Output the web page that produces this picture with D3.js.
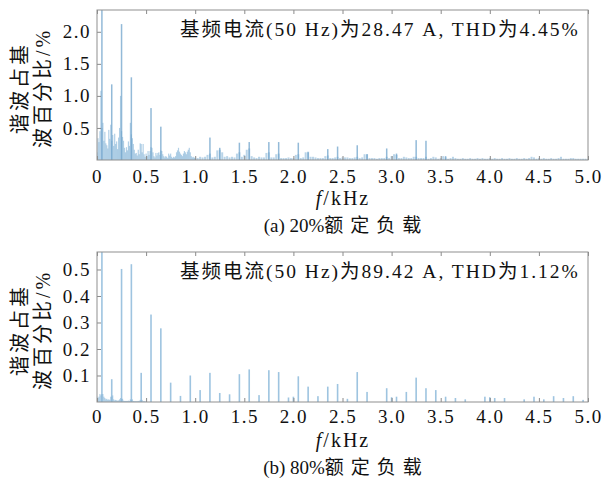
<!DOCTYPE html>
<html>
<head>
<meta charset="utf-8">
<script src="https://cdn.jsdelivr.net/npm/d3@7"></script>
<style>
  body { margin: 0; background: #fff; }
  svg text { font-family: "Liberation Serif", "Noto Sans CJK SC", serif; fill: #111; }
</style>
</head>
<body>
<svg id="chart" width="615" height="480"></svg>
<script>
// ---- data (harmonic content, % of fundamental) ----
var xTicks = [0, 0.5, 1.0, 1.5, 2.0, 2.5, 3.0, 3.5, 4.0, 4.5, 5.0];
var yTicksA = [0.5, 1.0, 1.5, 2.0];
var yTicksB = [0.1, 0.2, 0.3, 0.4, 0.5];

// (a) 20% load: 0-1 kHz spectrum at 10 Hz bins, starting at 0 kHz
var specLowA = [
  0.12, 0.34, 0.28, 0.45, 1.08, 0.50, 0.58, 0.30, 0.44, 0.26,
  0.23, 0.18, 0.47, 0.33, 0.55, 0.30, 0.39, 0.22, 0.41, 0.25,
  0.29, 0.17, 0.35, 0.50, 1.00, 0.45, 0.36, 0.30, 0.19, 0.12,
  0.20, 0.15, 0.29, 0.22, 0.58, 0.40, 0.34, 0.25, 0.16, 0.10,
  0.11, 0.07, 0.16, 0.09, 0.26, 0.25, 0.12, 0.25, 0.09, 0.05,
  0.10, 0.06, 0.14, 0.08, 0.14, 0.20, 0.19, 0.12, 0.06, 0.04,
  0.11, 0.07, 0.11, 0.12, 0.08, 0.15, 0.14, 0.09, 0.06, 0.04,
  0.06, 0.05, 0.03, 0.10, 0.07, 0.10, 0.05, 0.03, 0.05, 0.04,
  0.06, 0.12, 0.15, 0.19, 0.13, 0.10, 0.08, 0.06, 0.10, 0.14,
  0.12, 0.09, 0.13, 0.16, 0.19, 0.12, 0.06, 0.04, 0.05, 0.03
];
// (a) 1-5 kHz spectrum at 25 Hz bins, starting at 1.0 kHz
var specHighA = [
  0.04, 0.03, 0.05, 0.04,  0.05, 0.08, 0.10, 0.04,  0.05, 0.15, 0.16, 0.12,
  0.05, 0.06, 0.04, 0.05,  0.04, 0.10, 0.12, 0.05,  0.08, 0.16, 0.18, 0.06,
  0.04, 0.03, 0.05, 0.04,  0.04, 0.11, 0.12, 0.04,  0.04, 0.09, 0.10, 0.03,
  0.03, 0.03, 0.04, 0.03,  0.03, 0.08, 0.09, 0.03,  0.04, 0.12, 0.13, 0.05,
  0.05, 0.04, 0.03, 0.03,  0.03, 0.06, 0.07, 0.03,  0.03, 0.04, 0.05, 0.03,
  0.04, 0.04, 0.04, 0.03,  0.03, 0.04, 0.05, 0.03,  0.04, 0.09, 0.09, 0.03,
  0.03, 0.03, 0.02, 0.03,  0.03, 0.03, 0.05, 0.03,  0.06, 0.09, 0.08, 0.03,
  0.03, 0.05, 0.04, 0.03,  0.03, 0.05, 0.05, 0.03,  0.03, 0.03, 0.05, 0.02,
  0.03, 0.05, 0.04, 0.02,  0.03, 0.06, 0.04, 0.02,  0.03, 0.05, 0.03, 0.02,
  0.02, 0.03, 0.02, 0.02,  0.03, 0.02, 0.02, 0.03,  0.02, 0.03, 0.02, 0.02,
  0.03, 0.02, 0.03, 0.02,  0.02, 0.03, 0.02, 0.02,  0.03, 0.02, 0.02, 0.03,
  0.02, 0.02, 0.03, 0.02,  0.03, 0.05, 0.04, 0.02,  0.03, 0.02, 0.03, 0.02,
  0.02, 0.03, 0.02, 0.02,  0.03, 0.05, 0.02, 0.02,  0.02, 0.03, 0.03, 0.02,
  0.02, 0.02, 0.02, 0.02,  0.01
];
// (a) distinct lines (kHz, %)
var peakFreqA = [0.05, 0.15, 0.25, 0.35, 0.55, 0.65, 1.15, 1.25, 1.45, 1.55, 1.75, 1.85, 2.05, 2.15,
                 2.35, 2.45, 2.65, 2.75, 2.95, 3.05, 3.25, 3.35, 3.55];
var peakValA  = [100, 1.18, 2.12, 1.29, 0.81, 0.52, 0.35, 0.19, 0.27, 0.28, 0.28, 0.28, 0.27, 0.12,
                 0.17, 0.21, 0.23, 0.09, 0.18, 0.10, 0.31, 0.30, 0.06];

// (b) 80% load: low-frequency floor at 10 Hz bins, starting at 0 kHz
var specLowB = [
  0.020, 0.015, 0.020, 0.030, 0.025, 0.030, 0.030, 0.020, 0.015, 0.010,
  0.012, 0.008, 0.010, 0.008, 0.020, 0.020, 0.025, 0.010, 0.006, 0.008,
  0.006, 0.005, 0.006, 0.010, 0.015, 0.012, 0.012, 0.005, 0.004, 0.004,
  0.004, 0.004, 0.005, 0.004, 0.010, 0.008, 0.010, 0.004, 0.003, 0.003,
  0.003, 0.003, 0.004, 0.004, 0.008, 0.006, 0.008, 0.003, 0.003, 0.003
];
// (b) harmonic lines (kHz, %)
var harmFreqB = [0.05, 0.15, 0.25, 0.35, 0.45, 0.55, 0.65, 0.75, 0.85, 0.95, 1.05, 1.15, 1.25, 1.35,
                 1.45, 1.55, 1.65, 1.75, 1.85, 1.95, 2.00, 2.05, 2.15, 2.25, 2.35, 2.45, 2.55, 2.65,
                 2.75, 2.95, 3.00, 3.05, 3.15, 3.25, 3.35, 3.45, 3.55, 3.65, 3.75, 3.95, 4.00, 4.05,
                 4.15, 4.35, 4.45, 4.55, 4.65, 4.75, 4.85, 4.95];
var harmValB  = [100, 0.086, 0.502, 0.52, 0.11, 0.33, 0.278, 0.073, 0.023, 0.10, 0.045, 0.11, 0.034, 0.029,
                 0.105, 0.123, 0.026, 0.12, 0.113, 0.017, 0.02, 0.097, 0.058, 0.022, 0.058, 0.068, 0.012, 0.113,
                 0.038, 0.052, 0.018, 0.02, 0.038, 0.092, 0.052, 0.045, 0.02, 0.015, 0.01, 0.02, 0.018, 0.015,
                 0.015, 0.01, 0.02, 0.01, 0.022, 0.015, 0.022, 0.008];

var textA = "基频电流(50 Hz)为28.47 A, THD为4.45%";
var textB = "基频电流(50 Hz)为89.42 A, THD为1.12%";

// ---- layout ----
var svg = d3.select("#chart");
var left = 97, right = 588;
var x = d3.scaleLinear().domain([0, 5]).range([left, right]);

function toBins(vals, start, step) {
  return vals.map(function(v, i) { return {f: start + i * step, v: v}; });
}
function toLines(fs, vs) {
  return fs.map(function(f, i) { return {f: f, v: vs[i]}; });
}

function panel(opt) {
  var y = d3.scaleLinear().domain([0, opt.ymax]).range([opt.bottom, opt.top]);
  var g = svg.append("g");

  svg.append("clipPath").attr("id", opt.id + "-clip")
    .append("rect").attr("x", left).attr("y", opt.top)
    .attr("width", right - left).attr("height", opt.bottom - opt.top);

  var marks = g.append("g").attr("clip-path", "url(#" + opt.id + "-clip)");
  opt.layers.forEach(function(layer) {
    marks.selectAll(null)
      .data(layer.data)
      .enter()
      .append("rect")
      .attr("x", function(d) { return x(d.f) - layer.w / 2; })
      .attr("width", layer.w)
      .attr("y", function(d) { return y(d.v); })
      .attr("height", function(d) { return opt.bottom - y(d.v); })
      .style("fill", layer.color)
      .style("fill-opacity", layer.opacity);
  });

  // axes: ticks point inward
  var ax = g.append("g").attr("transform", "translate(0," + opt.bottom + ")")
    .call(d3.axisBottom(x).tickValues(xTicks).tickSizeInner(-4).tickSizeOuter(0).tickPadding(10)
      .tickFormat(function(d) { return d === 0 ? "0" : d3.format(".1f")(d); }));
  ax.selectAll("text").attr("dy", null).attr("y", opt.bottom === 160 ? 23 : 21);

  g.append("g").attr("transform", "translate(0," + opt.top + ")")
    .call(d3.axisTop(x).tickValues(xTicks).tickSizeInner(-4).tickSizeOuter(0).tickFormat(""));

  var ay = g.append("g").attr("transform", "translate(" + left + ",0)")
    .call(d3.axisLeft(y).tickValues(opt.yTicks).tickSizeInner(-4).tickSizeOuter(0).tickPadding(6)
      .tickFormat(d3.format(".1f")));

  g.selectAll(".domain").remove();
  g.selectAll(".tick line").attr("stroke", "#8a8a8a");
  g.selectAll(".tick text")
    .style("font-size", "19px").style("letter-spacing", "1.5px").attr("fill", "#111");

  g.append("rect")
    .attr("x", left).attr("y", opt.top)
    .attr("width", right - left).attr("height", opt.bottom - opt.top)
    .attr("fill", "none").attr("stroke", "#8f8f8f").attr("stroke-width", 1);

  // annotation
  g.append("text")
    .attr("x", 180).attr("y", opt.top + 26)
    .style("font-size", "19.5px").style("letter-spacing", "2px")
    .text(opt.note);

  // y label (two rotated lines)
  var cy = (opt.top + opt.bottom) / 2 + 3;
  [["谐波占基", 20], ["波百分比/%", 43]].forEach(function(l) {
    g.append("text")
      .attr("transform", "translate(" + l[1] + "," + cy + ") rotate(-90)")
      .attr("text-anchor", "middle").attr("dominant-baseline", "central")
      .style("font-size", "20px").style("letter-spacing", "3px")
      .text(l[0]);
  });

  // x label
  var xl = g.append("text")
    .attr("x", 343).attr("y", opt.bottom + 45)
    .attr("text-anchor", "middle")
    .style("font-size", "20px").style("letter-spacing", "2px");
  xl.append("tspan").style("font-style", "italic").text("f");
  xl.append("tspan").text("/kHz");

  // caption
  var cap = g.append("text")
    .attr("x", 346).attr("y", opt.bottom + 72)
    .attr("text-anchor", "middle")
    .style("font-size", "19px");
  cap.append("tspan").text(opt.cap[0]);
  cap.append("tspan").style("letter-spacing", "7px").text(opt.cap[1]);
}

panel({
  id: "a", top: 10, bottom: 160, ymax: 2.34, yTicks: yTicksA, note: textA,
  cap: ["(a) 20%", "额定负载"],
  layers: [
    {data: toBins(specLowA, 0, 0.01), w: 1.2, color: "#7fb1d6", opacity: 0.6},
    {data: toBins(specHighA, 1.0, 0.025), w: 2, color: "#7fb1d6", opacity: 0.55},
    {data: toLines(peakFreqA, peakValA), w: 1.5, color: "#6fa3cb", opacity: 0.75}
  ]
});

panel({
  id: "b", top: 252, bottom: 402, ymax: 0.566, yTicks: yTicksB, note: textB,
  cap: ["(b) 80%", "额定负载"],
  layers: [
    {data: toBins(specLowB, 0, 0.01), w: 1.2, color: "#7fb1d6", opacity: 0.6},
    {data: toLines(harmFreqB, harmValB), w: 1.6, color: "#86b5d8", opacity: 0.8}
  ]
});
</script>
</body>
</html>
